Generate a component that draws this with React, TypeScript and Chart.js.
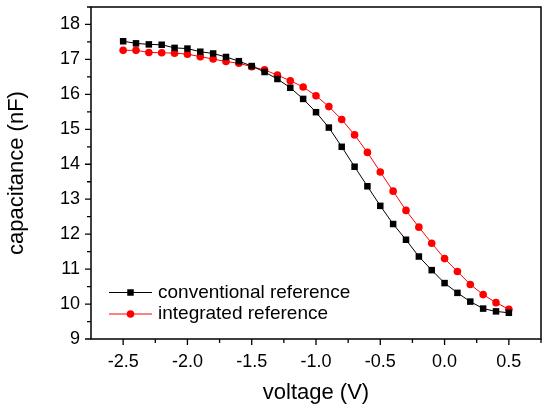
import React, { useEffect, useRef } from "react";
import { Chart, registerables } from "chart.js";

Chart.register(...registerables);

const voltages = [
  -2.5, -2.4, -2.3, -2.2, -2.1, -2.0, -1.9, -1.8, -1.7, -1.6, -1.5, -1.4, -1.3, -1.2, -1.1, -1.0,
  -0.9, -0.8, -0.7, -0.6, -0.5, -0.4, -0.3, -0.2, -0.1, 0.0, 0.1, 0.2, 0.3, 0.4, 0.5,
];
const conventional = [
  17.52, 17.46, 17.43, 17.42, 17.33, 17.31, 17.22, 17.17, 17.07, 16.95, 16.81, 16.64, 16.44, 16.19, 15.87, 15.49,
  15.05, 14.5, 13.93, 13.37, 12.81, 12.29, 11.84, 11.36, 10.97, 10.6, 10.32, 10.07, 9.87, 9.79, 9.75,
];
const integrated = [
  17.26, 17.26, 17.2, 17.19, 17.18, 17.15, 17.08, 17.01, 16.94, 16.89, 16.79, 16.7, 16.55, 16.39, 16.21, 15.96,
  15.65, 15.28, 14.84, 14.34, 13.78, 13.23, 12.68, 12.2, 11.74, 11.3, 10.93, 10.56, 10.27, 10.04, 9.85,
];
const xMajorTicks = [-2.5, -2.0, -1.5, -1.0, -0.5, 0.0, 0.5];
const xMinorTicks = [-2.25, -1.75, -1.25, -0.75, -0.25, 0.25, 0.75];
const yMajorTicks = [9, 10, 11, 12, 13, 14, 15, 16, 17, 18];
const yMinorTicks = [9.5, 10.5, 11.5, 12.5, 13.5, 14.5, 15.5, 16.5, 17.5, 18.5];
const seriesLabels = ["conventional reference", "integrated reference"];

const FONT = "'Liberation Sans', Arial, Helvetica, sans-serif";

const framePlugin = {
  id: "frameTicks",
  afterDraw(chart: any) {
    const { ctx, chartArea } = chart;
    const xs = chart.scales.x;
    const ys = chart.scales.y;
    ctx.save();
    ctx.strokeStyle = "#000";
    ctx.lineWidth = 1.5;
    ctx.strokeRect(chartArea.left, chartArea.top, chartArea.right - chartArea.left, chartArea.bottom - chartArea.top);
    ctx.lineWidth = 1.3;
    ctx.beginPath();
    xMajorTicks.forEach((v) => {
      const p = xs.getPixelForValue(v);
      ctx.moveTo(p, chartArea.bottom);
      ctx.lineTo(p, chartArea.bottom + 6);
    });
    xMinorTicks.forEach((v) => {
      const p = xs.getPixelForValue(v);
      ctx.moveTo(p, chartArea.bottom);
      ctx.lineTo(p, chartArea.bottom + 4);
    });
    yMajorTicks.forEach((v) => {
      const p = ys.getPixelForValue(v);
      ctx.moveTo(chartArea.left, p);
      ctx.lineTo(chartArea.left - 6, p);
    });
    yMinorTicks.forEach((v) => {
      const p = ys.getPixelForValue(v);
      ctx.moveTo(chartArea.left, p);
      ctx.lineTo(chartArea.left - 4, p);
    });
    ctx.stroke();

    // legend
    const lx0 = chartArea.left + 18;
    const lx1 = chartArea.left + 61;
    const rowY = [chartArea.bottom - 46.5, chartArea.bottom - 25];
    chart.data.datasets.forEach((ds: any, i: number) => {
      const y = rowY[i];
      ctx.strokeStyle = ds.borderColor;
      ctx.lineWidth = 1;
      ctx.beginPath();
      ctx.moveTo(lx0, y);
      ctx.lineTo(lx1, y);
      ctx.stroke();
      ctx.fillStyle = ds.pointBackgroundColor;
      const cx = (lx0 + lx1) / 2;
      ctx.beginPath();
      if (ds.pointStyle === "rect") {
        const s = ds.pointRadius * Math.SQRT1_2;
        ctx.rect(cx - s, y - s, 2 * s, 2 * s);
      } else {
        ctx.arc(cx, y, ds.pointRadius, 0, Math.PI * 2);
      }
      ctx.fill();
      ctx.fillStyle = "#000";
      ctx.font = `19px ${FONT}`;
      ctx.textBaseline = "middle";
      ctx.textAlign = "left";
      ctx.fillText(ds.label, lx1 + 6, y);
    });
    ctx.restore();
  },
};

export default function App() {
  const ref = useRef<HTMLCanvasElement | null>(null);
  useEffect(() => {
    if (!ref.current) return;
    const chart = new Chart(ref.current, {
      type: "line",
      data: {
        datasets: [
          {
            label: seriesLabels[0],
            data: voltages.map((v, i) => ({ x: v, y: conventional[i] })),
            borderColor: "#000000",
            backgroundColor: "#000000",
            pointBackgroundColor: "#000000",
            pointBorderColor: "#000000",
            pointBorderWidth: 0,
            pointStyle: "rect",
            pointRadius: 4.6,
            borderWidth: 1,
            tension: 0,
          },
          {
            label: seriesLabels[1],
            data: voltages.map((v, i) => ({ x: v, y: integrated[i] })),
            borderColor: "#ff0000",
            backgroundColor: "#ff0000",
            pointBackgroundColor: "#ff0000",
            pointBorderColor: "#ff0000",
            pointBorderWidth: 0,
            pointStyle: "circle",
            pointRadius: 3.8,
            borderWidth: 1,
            tension: 0,
          },
        ] as any,
      },
      plugins: [framePlugin],
      options: {
        animation: false,
        responsive: true,
        maintainAspectRatio: false,
        layout: { padding: { left: 0, right: 9, top: 7, bottom: 0 } },
        plugins: { legend: { display: false }, tooltip: { enabled: false } },
        scales: {
          x: {
            type: "linear",
            min: -2.75,
            max: 0.75,
            afterBuildTicks: (s: any) => {
              s.ticks = xMajorTicks.map((v) => ({ value: v }));
            },
            afterFit: (s: any) => {
              s.height = 72;
              s.paddingLeft = 0;
              s.paddingRight = 0;
            },
            grid: { display: false, drawTicks: false },
            border: { display: false },
            ticks: {
              padding: 12,
              color: "#000",
              font: { family: FONT, size: 18 },
              callback: (v: any) => Number(v).toFixed(1),
              maxRotation: 0,
              autoSkip: false,
            },
            title: {
              display: true,
              text: "voltage (V)",
              color: "#000",
              font: { family: FONT, size: 22 },
              padding: { top: 0, bottom: 5 },
            },
          },
          y: {
            type: "linear",
            min: 9,
            max: 18.5,
            afterBuildTicks: (s: any) => {
              s.ticks = yMajorTicks.map((v) => ({ value: v }));
            },
            afterFit: (s: any) => {
              s.width = 91;
              s.paddingTop = 0;
              s.paddingBottom = 0;
            },
            grid: { display: false, drawTicks: false },
            border: { display: false },
            ticks: {
              padding: 11,
              color: "#000",
              font: { family: FONT, size: 18 },
              autoSkip: false,
            },
            title: {
              display: true,
              text: "capacitance (nF)",
              color: "#000",
              font: { family: FONT, size: 22 },
              padding: { top: 4, bottom: 0 },
            },
          },
        },
      } as any,
    });
    return () => chart.destroy();
  }, []);
  return (
    <div style={{ position: "fixed", left: 0, top: 0, width: 550, height: 411, background: "#fff" }}>
      <canvas ref={ref} />
    </div>
  );
}
